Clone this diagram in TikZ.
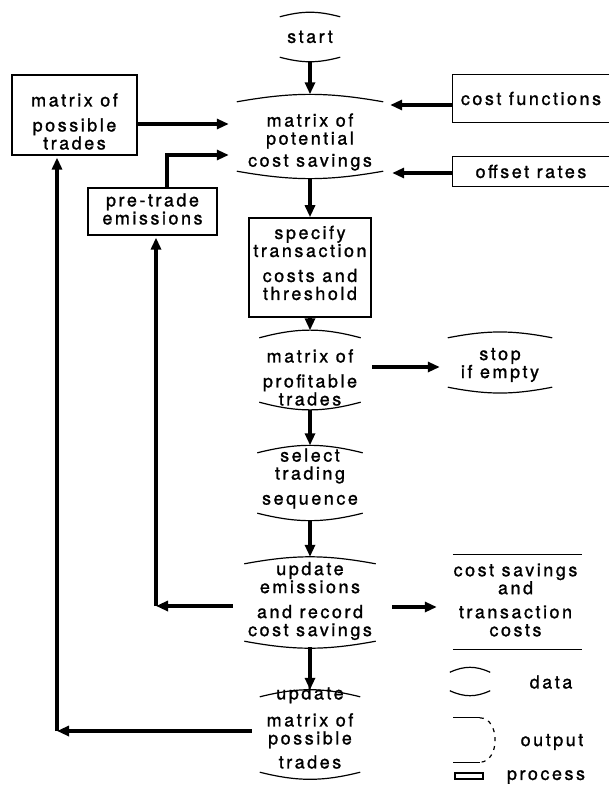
\documentclass[tikz,border=0pt]{standalone}
\usepackage{fontspec}
\setmainfont{TeX Gyre Heros}[LetterSpace=14,FakeBold=1.2]
\usetikzlibrary{arrows.meta,calc}
\begin{document}
\begin{tikzpicture}[x=1pt,y=-1pt,
  every node/.style={font=\fontsize{18}{18}\selectfont},
  txt/.style={align=center,inner sep=0pt},
  dline/.style={draw,line width=1.2pt},
  dat/.style={inner sep=0pt,append after command={(\tikzlastnode.north west) edge[dline,bend left=#1] (\tikzlastnode.north east) (\tikzlastnode.south west) edge[dline,bend right=#1] (\tikzlastnode.south east)}},
  outp/.style={inner sep=0pt,append after command={(\tikzlastnode.north west) edge[dline] (\tikzlastnode.north east) (\tikzlastnode.south west) edge[dline] (\tikzlastnode.south east)}},
  openbox/.style={inner sep=0pt,align=center},
  inbox/.style={draw,line width=1.2pt,inner sep=0pt,align=center},
  procbox/.style={draw,line width=1.6pt,inner sep=0pt,align=center},
  arr/.style={line width=3.2pt,-{Triangle[length=12pt,width=10pt]}},
]
\useasboundingbox (0,0) rectangle (610,797);

% main column
\node[dat=15,minimum width=60pt,minimum height=40pt,
  label={[txt,name=startT]center:start}] (start) at (310,37) {};
\node[dat=10,minimum width=146pt,minimum height=69pt,
  label={[txt,name=potT,yshift=-5.5pt]center:{matrix of\\potential\\[4pt]cost savings}}] (pot) at (310,136.5) {};
\node[procbox,minimum width=122pt,minimum height=99pt,
  label={[txt,name=specT,yshift=4.5pt]center:{specify\\transaction\\[7pt]costs and\\threshold}}] (spec) at (310,267.5) {};
\node[dat=15,minimum width=101pt,minimum height=64pt,
  label={[txt,name=profT,yshift=-7.5pt]center:{matrix of\\[7pt]profitable\\trades}}] (prof) at (310,370) {};
\node[dat=11,minimum width=104pt,minimum height=49pt,
  label={[txt,name=stopT,yshift=-2.5pt]center:{stop\\if empty}}] (stop) at (500,362.5) {};
\node[dat=14,minimum width=105pt,minimum height=60pt,
  label={[txt,name=selT,yshift=4.5pt]center:{select\\trading\\[7pt]sequence}}] (sel) at (310,483) {};
\node[dat=10.5,minimum width=131pt,minimum height=77pt,
  label={[txt,name=upemT,yshift=1.5pt]center:{update\\emissions\\[7pt]and record\\cost savings}}] (upem) at (310,602.5) {};
\node[dat=14,minimum width=100pt,minimum height=75pt,
  label={[txt,name=upmatT,yshift=7pt]center:{update\\[9pt]matrix of\\possible\\[6pt]trades}}] (upmat) at (310,734.5) {};
\node[outp,minimum width=129pt,minimum height=94pt,
  label={[txt,name=costsT,yshift=2pt,xshift=-2pt]center:{cost savings\\and\\[6pt]transaction\\costs}}] (costs) at (517.5,602) {};

% inputs
\node[inbox,minimum width=125pt,minimum height=80pt,
  label={[txt,name=mptT,yshift=-6.5pt]center:{matrix of\\[7pt]possible\\trades}}] (mpt) at (74.5,115) {};
\node[inbox,minimum width=129pt,minimum height=47pt,
  label={[txt,name=pteT,yshift=2.5pt]center:{pre-trade\\emissions}}] (pte) at (152.5,211.5) {};
\node[openbox,minimum width=156pt,minimum height=47pt] (cf) at (531,98.5) {cost functions};
\draw[dline] (cf.north east) -- (cf.north west) -- (cf.south west) -- (cf.south east);
\node[openbox,minimum width=156pt,minimum height=29pt] (off) at (531,171.5) {offset rates};
\draw[dline] (off.north east) -- (off.north west) -- (off.south west) -- (off.south east);

% legend
\node[dat=25,minimum width=40pt,minimum height=18pt] (legdat) at (470,681.5) {};
\node[inner sep=0pt,minimum width=47pt,minimum height=44pt] (legout) at (476.5,740) {};
\draw[dline] ([xshift=27pt]legout.north west) -- (legout.north west);
\draw[dline] ([xshift=27pt]legout.south west) -- (legout.south west);
\draw[dline,dash pattern=on 4pt off 5pt] ([xshift=27pt]legout.north west) .. controls (legout.north east) and (legout.south east) .. ([xshift=27pt]legout.south west);
\node[procbox,line width=2pt,minimum width=28pt,minimum height=6pt] (legproc) at (469,776) {};
\node[txt] (legdatT) at (551,682) {data};
\node[txt] (legoutT) at (552,742) {output};
\node[txt] (legprocT) at (546,777) {process};

% connectors
\draw[arr] ([yshift=-4.5pt]start.south) -- ([yshift=7.5pt]pot.north);
\draw[arr,shorten >=8pt] ([yshift=-9pt]mpt.east) -- ([yshift=-9pt]mpt.east -| pot.west);
\draw[arr,shorten >=8pt] ([xshift=14.5pt]pte.north) |- ([yshift=-18.5pt]pot.west);
\draw[arr,shorten >=7pt] ([yshift=-6.5pt]cf.west) -- ([yshift=-6.5pt]cf.west -| pot.east);
\draw[arr,shorten >=9pt] ([yshift=-1.5pt]off.west) -- ([yshift=-1.5pt]off.west -| pot.east);
\draw[arr] ([yshift=-7.5pt]pot.south) -- (spec.north);
\draw[arr] (spec.south) -- ([yshift=7.5pt]prof.north);
\draw[arr,shorten >=8pt] ([xshift=11.5pt,yshift=3pt]prof.east) -- ([yshift=3pt]prof.east -| stop.west);
\draw[arr] ([yshift=-7.5pt]prof.south) -- ([yshift=7.5pt]sel.north);
\draw[arr] ([yshift=-7.5pt]sel.south) -- ([yshift=7pt]upem.north);
\draw[arr,shorten >=16pt] ([xshift=16.5pt,yshift=-4.5pt]upem.east) -- ([yshift=-4.5pt]upem.east -| costs.west);
\draw[arr] ([yshift=-6pt]upem.south) -- ([yshift=7pt]upmat.north);
\coordinate (c1) at (156,606);
\draw[arr] ([xshift=-11.5pt,yshift=-3.5pt]upem.west) -- (c1);
\draw[arr,shorten >=2pt] (c1) -- (c1 |- pte.south);
\coordinate (c2) at (57,731);
\draw[arr] ([xshift=-8pt,yshift=3.5pt]upmat.west) -- (c2);
\draw[arr,shorten >=2pt] (c2) -- (c2 |- mpt.south);
\end{tikzpicture}
\end{document}
